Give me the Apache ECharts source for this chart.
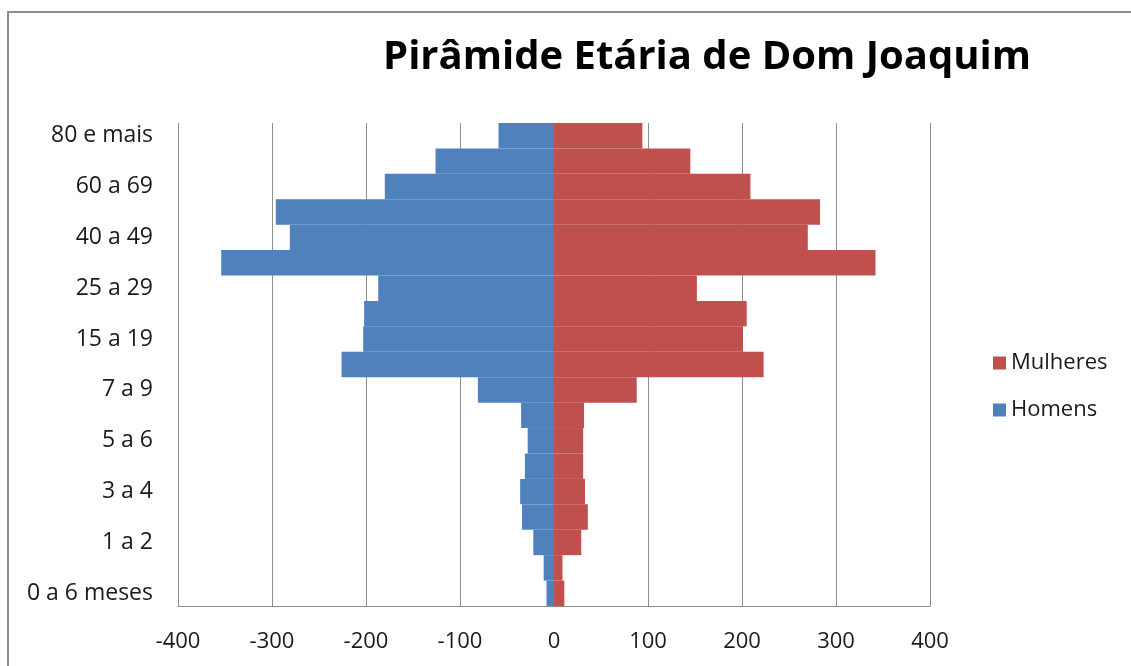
<!DOCTYPE html>
<html>
<head>
<meta charset="utf-8">
<title>Pirâmide Etária de Dom Joaquim</title>
<script src="https://cdn.jsdelivr.net/npm/echarts@6/dist/echarts.min.js"></script>
<style>
  html, body { margin: 0; padding: 0; background: #fff; }
  #chart { width: 1131px; height: 666px; }
</style>
</head>
<body>
<div id="chart"></div>
<script>
// Faixas etárias (de baixo para cima)
const categories = [
  '0 a 6 meses', '7 a 11 meses', '1 a 2', '2 a 3', '3 a 4', '4 a 5', '5 a 6', '6 a 7',
  '7 a 9', '10 a 14', '15 a 19', '20 a 24', '25 a 29', '30 a 39', '40 a 49',
  '50 a 59', '60 a 69', '70 a 79', '80 e mais'
];

// População por faixa etária
const homens = [8, 11, 22, 34, 36, 31, 28, 35, 81, 226, 203, 202, 187, 354, 281, 296, 180, 126, 59];
const mulheres = [11, 9, 29, 36, 33, 31, 31, 32, 88, 223, 201, 205, 152, 342, 270, 283, 209, 145, 94];

// Marcas do eixo horizontal
const xTicks = { min: -400, max: 400, interval: 100 };

const FONT = "'Open Sans', 'Noto Sans', 'DejaVu Sans', sans-serif";
const TEXT = '#1a1a1a';
const GRID = '#8e8e8e';

const chart = echarts.init(document.getElementById('chart'), null, { renderer: 'canvas' });

chart.setOption({
  animation: false,
  backgroundColor: '#ffffff',
  title: {
    text: 'Pirâmide Etária de Dom Joaquim',
    left: 702,
    top: 33,
    textAlign: 'center',
    textStyle: { fontFamily: FONT, fontWeight: 'bold', fontSize: 40, color: '#000' }
  },
  graphic: [{
    type: 'rect',
    shape: { x: 8, y: 12, width: 1300, height: 1000 },
    style: { fill: 'none', stroke: '#8c8c8c', lineWidth: 2 },
    silent: true
  }],
  legend: {
    orient: 'vertical',
    left: 988,
    top: 347,
    itemWidth: 13,
    itemHeight: 13,
    itemGap: 25,
    icon: 'rect',
    data: ['Mulheres', 'Homens'],
    textStyle: { fontFamily: FONT, fontSize: 22, color: TEXT }
  },
  grid: { left: 178, right: 201, top: 123, bottom: 60, containLabel: false },
  xAxis: {
    type: 'value',
    min: xTicks.min,
    max: xTicks.max,
    interval: xTicks.interval,
    axisLine: { show: true, onZero: false, lineStyle: { color: GRID, width: 1 } },
    axisTick: { show: false },
    splitLine: { show: true, lineStyle: { color: GRID, width: 1 } },
    axisLabel: { fontFamily: FONT, fontSize: 22, color: TEXT, margin: 25 }
  },
  yAxis: {
    type: 'category',
    data: categories,
    axisLine: { show: false },
    axisTick: { show: false },
    splitLine: { show: false },
    axisLabel: { interval: 1, fontFamily: FONT, fontSize: 23, color: TEXT, margin: 25 }
  },
  series: [
    {
      name: 'Homens',
      type: 'bar',
      stack: 'piramide',
      barCategoryGap: 0,
      itemStyle: { color: '#4f81bd' },
      data: homens.map(v => -v)
    },
    {
      name: 'Mulheres',
      type: 'bar',
      stack: 'piramide',
      barCategoryGap: 0,
      itemStyle: { color: '#c0504d' },
      data: mulheres
    }
  ]
});
</script>
</body>
</html>
